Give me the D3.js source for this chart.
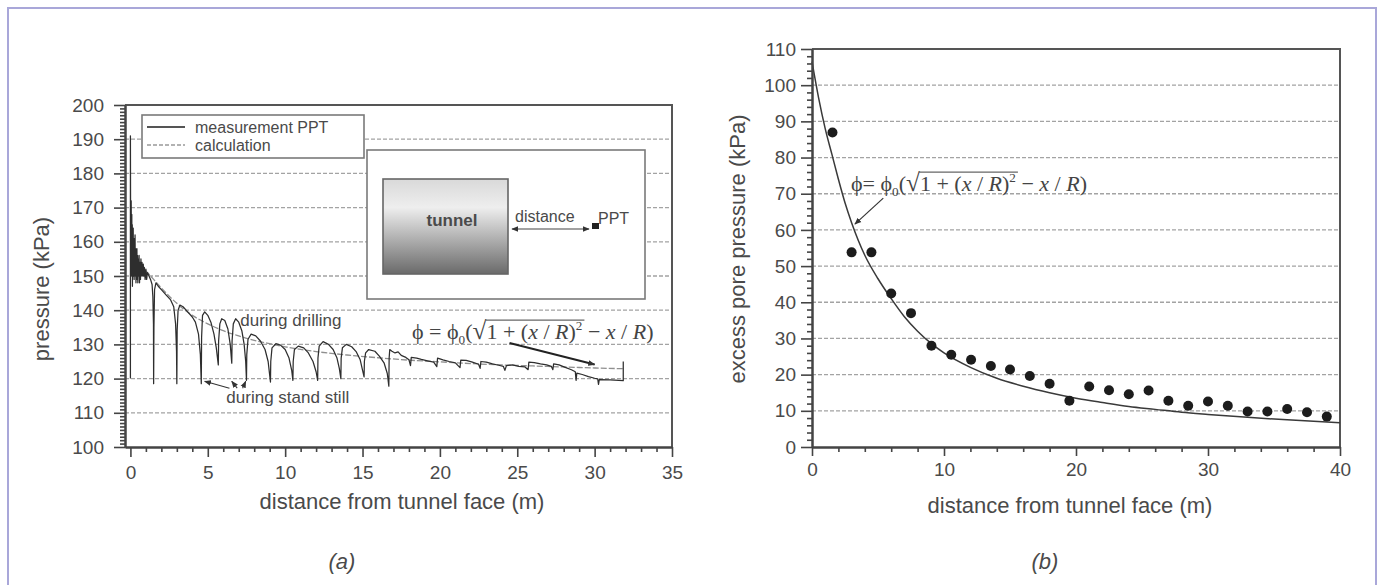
<!DOCTYPE html>
<html>
<head>
<meta charset="utf-8">
<script src="https://cdn.jsdelivr.net/npm/d3@7"></script>
<style>
  body { margin: 0; background: #fff; }
  svg { display: block; }
  text { font-family: "Liberation Sans", Arial, sans-serif; fill: #4a4a4a; }
  .formula text { font-family: "Liberation Serif", "DejaVu Serif", serif; fill: #444; }
</style>
</head>
<body>
<svg id="chart"></svg>
<script>
// ---- chart (a): pressure vs distance ----
var ticksA_x = [0, 5, 10, 15, 20, 25, 30, 35];
var ticksA_y = [100, 110, 120, 130, 140, 150, 160, 170, 180, 190, 200];
var gridA = [110, 120, 130, 140, 150, 160, 170, 180, 190];

var measurement = [
  [0, 120], [0, 191], [0.02, 150], [0.05, 172], [0.07, 155], [0.09, 168], [0.1, 150], [0.12, 165],
  [0.13, 147], [0.15, 162], [0.16, 152], [0.18, 164], [0.2, 150], [0.22, 161], [0.24, 149], [0.26, 160],
  [0.28, 151], [0.3, 162], [0.32, 150], [0.34, 158], [0.36, 148], [0.38, 157], [0.4, 150], [0.42, 158],
  [0.44, 149], [0.46, 156], [0.48, 148], [0.5, 155], [0.53, 150], [0.56, 156], [0.59, 148], [0.62, 154],
  [0.65, 149], [0.68, 155], [0.71, 150], [0.75, 154], [0.79, 150], [0.83, 153.5], [0.87, 150], [0.9, 152.5],
  [0.95, 149], [1.0, 152], [1.05, 149], [1.1, 151], [1.2, 150], [1.3, 149], [1.4, 147.5],
  [1.45, 144], [1.49, 136], [1.5, 118.5],
  [1.52, 135], [1.56, 146], [1.65, 148], [1.8, 147], [2.0, 146], [2.3, 144.5], [2.6, 143], [2.8, 141],
  [2.92, 136], [2.98, 128], [3.0, 118.5],
  [3.02, 134], [3.08, 140], [3.2, 141.5], [3.4, 141], [3.7, 139.5], [4.0, 138], [4.2, 136.5], [4.4, 133],
  [4.52, 127], [4.58, 118.5],
  [4.6, 132], [4.66, 138.5], [4.8, 139.5], [5.0, 138.5], [5.2, 136.5], [5.4, 133], [5.55, 129], [5.68, 124],
  [5.7, 131], [5.78, 136], [5.9, 137.5], [6.1, 137], [6.3, 134.5], [6.45, 130], [6.55, 124.5],
  [6.57, 131], [6.65, 136], [6.8, 137.5], [7.0, 136.5], [7.2, 134], [7.35, 130], [7.45, 125], [7.5, 119.5],
  [7.52, 127], [7.6, 131.5], [7.8, 133], [8.1, 132.5], [8.4, 131], [8.7, 128.5], [8.9, 125], [9.0, 121], [9.05, 119],
  [9.07, 125], [9.15, 129], [9.4, 130.2], [9.7, 129.8], [10.0, 128.5], [10.25, 126], [10.42, 122.5], [10.5, 119.5],
  [10.52, 125], [10.6, 128.5], [10.85, 129.5], [11.2, 129], [11.5, 127.5], [11.8, 125], [12.0, 122], [12.1, 119.5],
  [12.12, 126], [12.2, 129.5], [12.45, 130.8], [12.8, 130], [13.1, 128.5], [13.35, 126], [13.5, 123], [13.6, 120],
  [13.62, 126], [13.7, 129], [13.95, 130], [14.3, 129.3], [14.6, 127.8], [14.85, 125.5], [15.0, 122.5], [15.1, 120.5],
  [15.12, 125], [15.2, 127.5], [15.4, 128.5], [15.8, 128], [16.1, 126.5], [16.4, 124.5], [16.6, 121.5], [16.7, 117.8],
  [16.72, 126], [16.76, 128.5], [16.9, 128], [17.1, 127.5], [17.3, 127.8], [17.5, 126.8], [17.8, 126.2], [18.0, 125.5],
  [18.1, 123.8], [18.15, 126.2], [18.5, 126], [18.8, 125.6], [19.2, 125.2], [19.6, 124.8], [19.8, 123.5], [19.85, 126],
  [20.2, 125.5], [20.6, 125], [21.0, 124.6], [21.3, 123.2], [21.35, 125.4], [21.7, 125.3], [22.1, 124.8], [22.5, 124.2],
  [22.6, 123], [22.65, 125], [23.0, 124.8], [23.4, 124.3], [23.8, 123.9], [24.1, 123.6], [24.2, 122.4], [24.3, 123.8],
  [24.7, 124], [25.1, 123.6], [25.5, 123.4], [25.7, 122.6], [25.75, 124.8], [26.1, 124.7], [26.5, 124.3], [26.9, 124],
  [27.2, 123.6], [27.3, 122.6], [27.35, 124.3], [27.7, 124], [28.1, 123.3], [28.5, 122.6], [28.75, 122], [28.8, 119.5],
  [28.85, 121.6], [29.2, 121.2], [29.6, 120.6], [30.0, 120.1], [30.2, 119.9], [30.25, 118.3], [30.3, 119.7],
  [31.0, 119.6], [31.85, 119.4], [31.85, 125]
];

// calculated curve (distance m, kPa)
var calculation = [
  [0, 157], [0.5, 154], [1, 151.5], [1.5, 149], [2, 146.5], [3, 142], [4, 138.5], [5, 136], [6, 134],
  [7, 132.5], [8, 131.2], [9, 130.2], [10, 129.3], [12, 127.9], [14, 126.9], [16, 126.1], [18, 125.4],
  [20, 124.9], [22, 124.4], [24, 124], [26, 123.7], [28, 123.4], [30, 123.1], [31.85, 122.9]
];

// ---- chart (b): excess pore pressure ----
var ticksB_x = [0, 10, 20, 30, 40];
var ticksB_y = [0, 10, 20, 30, 40, 50, 60, 70, 80, 90, 100, 110];
var gridB = [10, 20, 30, 40, 50, 60, 70, 80, 90, 100];

var pointsX = [1.55, 3.0, 4.5, 6.0, 7.5, 9.05, 10.55, 12.05, 13.55, 15.0, 16.5, 18.0, 19.5,
               21.0, 22.5, 24.0, 25.5, 27.0, 28.5, 30.0, 31.5, 33.0, 34.5, 36.0, 37.5, 39.0];
var pointsY = [86.9, 53.8, 53.8, 42.4, 37.0, 28.0, 25.5, 24.1, 22.4, 21.4, 19.6, 17.5, 12.8,
               16.7, 15.7, 14.6, 15.6, 12.8, 11.4, 12.6, 11.4, 9.8, 9.8, 10.5, 9.6, 8.4];

var theoryX = [0, 0.5, 1, 1.5, 2, 2.5, 3, 4, 5, 6, 7, 8, 9, 10, 12, 14, 16, 18, 20, 22, 24, 26, 28, 30, 33, 36, 40];
var theoryY = [106.5, 96.5, 88, 81, 74, 67.5, 62, 53, 46.5, 41, 36, 32, 28.7, 26, 22, 19, 16.8, 15, 13.5,
               12.3, 11.2, 10.4, 9.6, 9, 8.2, 7.5, 6.7];

var W = 1381, H = 585;
var svg = d3.select("#chart").attr("width", W).attr("height", H);

// outer frame
svg.append("rect")
    .attr("x", 8).attr("y", 8)
    .attr("width", 1368).attr("height", 600)
    .attr("fill", "none")
    .attr("stroke", "#a9a7d9")
    .attr("stroke-width", 2);

var defs = svg.append("defs");
function arrowMarker(id, orient) {
    defs.append("marker")
        .attr("id", id)
        .attr("viewBox", "0 0 10 10")
        .attr("refX", 9).attr("refY", 5)
        .attr("markerWidth", 7).attr("markerHeight", 7)
        .attr("markerUnits", "userSpaceOnUse")
        .attr("orient", orient)
        .append("path")
        .attr("d", "M0,1 L10,5 L0,9 Z")
        .attr("fill", "#333");
}
arrowMarker("arr", "auto");
arrowMarker("arrStart", "auto-start-reverse");

var grad = defs.append("linearGradient")
    .attr("id", "tunnelGrad")
    .attr("x1", 0).attr("y1", 0).attr("x2", 0).attr("y2", 1);
grad.append("stop").attr("offset", "0").attr("stop-color", "#d9d9d9");
grad.append("stop").attr("offset", "0.3").attr("stop-color", "#eeeeee");
grad.append("stop").attr("offset", "1").attr("stop-color", "#6a6a6a");

function range(a, b, step) {
    var out = [];
    for (var v = a; v <= b + 1e-9; v += step) out.push(+v.toFixed(3));
    return out;
}

function styleAxis(g, labelSize) {
    g.select(".domain").attr("stroke", "#444").attr("stroke-width", 2);
    g.selectAll(".tick line").attr("stroke", "#444").attr("stroke-width", 1.6);
    g.selectAll(".tick text")
        .style("font-family", "'Liberation Sans', Arial, sans-serif")
        .style("font-size", labelSize + "px")
        .attr("fill", "#4a4a4a");
}

// formula drawn piece by piece so that the root bar can be measured
function formula(g, x0, yBase, size, tight) {
    var pieces = [
        { t: "\u03d5" }, { t: tight ? "= " : " = " }, { t: "\u03d5" }, { t: "0", sub: true }, { t: "(" },
        { t: "\u221a", root: true }, { t: "1 + (", barStart: true }, { t: "x", it: true }, { t: " / " },
        { t: "R", it: true }, { t: ")" }, { t: "2", sup: true, barEnd: true }, { t: " \u2212 " },
        { t: "x", it: true }, { t: " / " }, { t: "R", it: true }, { t: ")" }
    ];
    var x = x0, barX0 = 0, barX1 = 0;
    pieces.forEach(function(p) {
        var fs = (p.sub || p.sup) ? size * 0.6 : size;
        var dy = p.sub ? size * 0.22 : (p.sup ? -size * 0.42 : 0);
        var t = g.append("text")
            .attr("x", x).attr("y", yBase + dy)
            .style("font-size", (p.root ? size * 1.15 : fs) + "px")
            .style("font-style", p.it ? "italic" : "normal")
            .attr("xml:space", "preserve")
            .text(p.t);
        if (p.barStart) barX0 = x;
        x += t.node().getComputedTextLength();
        if (p.barEnd) barX1 = x + 2;
    });
    g.append("line")
        .attr("x1", barX0 - 1).attr("x2", barX1)
        .attr("y1", yBase - size * 0.86).attr("y2", yBase - size * 0.86)
        .attr("stroke", "#666").attr("stroke-width", 1.2);
}

// ================= chart (a) =================
var xa = d3.scaleLinear().domain([-0.35, 35]).range([125, 672]);
var ya = d3.scaleLinear().domain([100, 200]).range([447, 105]);
var ga = svg.append("g");

ga.append("g").selectAll("line")
    .data(gridA).enter().append("line")
    .attr("x1", xa(-0.35)).attr("x2", xa(35))
    .attr("y1", function(d) { return ya(d); })
    .attr("y2", function(d) { return ya(d); })
    .attr("stroke", "#a3a3a3")
    .attr("stroke-width", 1.3)
    .attr("stroke-dasharray", "4,2");

// frame top / right
ga.append("path")
    .attr("d", "M" + xa(-0.35) + "," + ya(200) + "H" + xa(35) + "V" + ya(100))
    .attr("fill", "none").attr("stroke", "#555").attr("stroke-width", 2);

// inset sketch box
var inset = ga.append("g");
inset.append("rect")
    .attr("x", 367).attr("y", 150).attr("width", 278).attr("height", 149)
    .attr("fill", "#fff").attr("stroke", "#7a7a7a").attr("stroke-width", 1.6);
inset.append("rect")
    .attr("x", 383).attr("y", 179).attr("width", 125).attr("height", 95)
    .attr("fill", "url(#tunnelGrad)").attr("stroke", "#666").attr("stroke-width", 1.6);
inset.append("text")
    .attr("x", 452).attr("y", 226)
    .attr("text-anchor", "middle")
    .style("font-size", "17px").style("font-weight", "bold")
    .attr("fill", "#3a3a3a")
    .text("tunnel");
inset.append("line")
    .attr("x1", 512).attr("x2", 589).attr("y1", 229).attr("y2", 229)
    .attr("stroke", "#444").attr("stroke-width", 1.2)
    .attr("marker-start", "url(#arrStart)")
    .attr("marker-end", "url(#arr)");
inset.append("text")
    .attr("x", 515).attr("y", 222)
    .style("font-size", "16px")
    .text("distance");
inset.append("rect")
    .attr("x", 592).attr("y", 223).attr("width", 7).attr("height", 6)
    .attr("fill", "#222");
inset.append("text")
    .attr("x", 598).attr("y", 224)
    .style("font-size", "16px")
    .text("PPT");

// legend
var leg = ga.append("g");
leg.append("rect")
    .attr("x", 142).attr("y", 115).attr("width", 222).attr("height", 43)
    .attr("fill", "#fff").attr("stroke", "#7a7a7a").attr("stroke-width", 1.6);
leg.append("line").attr("x1", 147).attr("x2", 185).attr("y1", 127).attr("y2", 127)
    .attr("stroke", "#555").attr("stroke-width", 2);
leg.append("line").attr("x1", 147).attr("x2", 185).attr("y1", 145).attr("y2", 145)
    .attr("stroke", "#999").attr("stroke-width", 1.3).attr("stroke-dasharray", "4,2");
leg.append("text").attr("x", 195).attr("y", 133).style("font-size", "16px").text("measurement PPT");
leg.append("text").attr("x", 195).attr("y", 151).style("font-size", "16px").text("calculation");

var lineA = d3.line()
    .x(function(d) { return xa(d[0]); })
    .y(function(d) { return ya(d[1]); });

ga.append("path")
    .datum(calculation)
    .attr("d", lineA.curve(d3.curveMonotoneX))
    .attr("fill", "none").attr("stroke", "#8f8f8f")
    .attr("stroke-width", 1.3).attr("stroke-dasharray", "6,2");

ga.append("path")
    .datum(measurement)
    .attr("d", lineA.curve(d3.curveLinear))
    .attr("fill", "none").attr("stroke", "#2e2e2e")
    .attr("stroke-width", 1.25).attr("stroke-linejoin", "round");

// axes (a)
var axYa = ga.append("g").attr("transform", "translate(" + xa(-0.35) + ",0)");
axYa.call(d3.axisLeft(ya).tickValues(range(100, 200, 1).filter(function(v) { return v % 10; }))
    .tickSize(5).tickSizeOuter(0).tickFormat(""));
axYa.call(styleAxis, 19);
var axYaM = ga.append("g").attr("transform", "translate(" + xa(-0.35) + ",0)");
axYaM.call(d3.axisLeft(ya).tickValues(ticksA_y).tickSize(11).tickPadding(10).tickSizeOuter(0));
axYaM.call(styleAxis, 19);

var axXa = ga.append("g").attr("transform", "translate(0," + ya(100) + ")");
axXa.call(d3.axisBottom(xa).tickValues(range(0, 35, 1).filter(function(v) { return v % 5; }))
    .tickSize(5).tickSizeOuter(0).tickFormat(""));
axXa.call(styleAxis, 19);
var axXaM = ga.append("g").attr("transform", "translate(0," + ya(100) + ")");
axXaM.call(d3.axisBottom(xa).tickValues(ticksA_x).tickSize(10).tickPadding(9).tickSizeOuter(0));
axXaM.call(styleAxis, 19);

ga.append("text")
    .attr("transform", "translate(49," + 289 + ") rotate(-90)")
    .attr("text-anchor", "middle")
    .style("font-size", "22px")
    .text("pressure (kPa)");
ga.append("text")
    .attr("x", 402).attr("y", 509)
    .attr("text-anchor", "middle")
    .style("font-size", "22px")
    .text("distance from tunnel face (m)");
ga.append("text")
    .attr("x", 342).attr("y", 569)
    .attr("text-anchor", "middle")
    .style("font-size", "22px").style("font-style", "italic")
    .text("(a)");

// annotations (a)
ga.append("text").attr("x", xa(7.1)).attr("y", ya(135.5))
    .style("font-size", "17px").text("during drilling");
ga.append("text").attr("x", xa(6.2)).attr("y", ya(113))
    .style("font-size", "17px").text("during stand still");
[[6.4, 4.8], [6.9, 6.55], [7.25, 7.45]].forEach(function(a) {
    ga.append("line")
        .attr("x1", xa(a[0])).attr("y1", ya(117.2))
        .attr("x2", xa(a[1])).attr("y2", ya(119.2))
        .attr("stroke", "#333").attr("stroke-width", 1.1)
        .attr("marker-end", "url(#arr)");
});
ga.append("line")
    .attr("x1", xa(24.5)).attr("y1", ya(130.4))
    .attr("x2", xa(30.0)).attr("y2", ya(124.1))
    .attr("stroke", "#222").attr("stroke-width", 2)
    .attr("marker-end", "url(#arr)");
formula(ga.append("g").attr("class", "formula"), 412, 339, 22, false);

// ================= chart (b) =================
var xb = d3.scaleLinear().domain([0, 40]).range([812, 1340]);
var yb = d3.scaleLinear().domain([0, 110]).range([447, 49]);
var gb = svg.append("g");

gb.append("g").selectAll("line")
    .data(gridB).enter().append("line")
    .attr("x1", xb(0)).attr("x2", xb(40))
    .attr("y1", function(d) { return yb(d); })
    .attr("y2", function(d) { return yb(d); })
    .attr("stroke", "#a3a3a3")
    .attr("stroke-width", 1.3)
    .attr("stroke-dasharray", "4,2");

gb.append("path")
    .attr("d", "M" + xb(0) + "," + yb(110) + "H" + xb(40) + "V" + yb(0))
    .attr("fill", "none").attr("stroke", "#555").attr("stroke-width", 2);

var theory = theoryX.map(function(x, i) { return [x, theoryY[i]]; });
gb.append("path")
    .datum(theory)
    .attr("d", d3.line()
        .x(function(d) { return xb(d[0]); })
        .y(function(d) { return yb(d[1]); })
        .curve(d3.curveMonotoneX))
    .attr("fill", "none").attr("stroke", "#3a3a3a").attr("stroke-width", 1.5);

gb.append("g").selectAll("circle")
    .data(pointsX).enter().append("circle")
    .attr("cx", function(d) { return xb(d); })
    .attr("cy", function(d, i) { return yb(pointsY[i]); })
    .attr("r", 5)
    .attr("fill", "#1c1c1c");

var axYb = gb.append("g").attr("transform", "translate(" + xb(0) + ",0)");
axYb.call(d3.axisLeft(yb).tickValues(range(0, 110, 2).filter(function(v) { return v % 10; }))
    .tickSize(5).tickSizeOuter(0).tickFormat(""));
axYb.call(styleAxis, 19);
var axYbM = gb.append("g").attr("transform", "translate(" + xb(0) + ",0)");
axYbM.call(d3.axisLeft(yb).tickValues(ticksB_y).tickSize(11).tickPadding(5).tickSizeOuter(0));
axYbM.call(styleAxis, 19);

var axXb = gb.append("g").attr("transform", "translate(0," + yb(0) + ")");
axXb.call(d3.axisBottom(xb).tickValues(range(0, 40, 2).filter(function(v) { return v % 10; }))
    .tickSize(5).tickSizeOuter(0).tickFormat(""));
axXb.call(styleAxis, 19);
var axXbM = gb.append("g").attr("transform", "translate(0," + yb(0) + ")");
axXbM.call(d3.axisBottom(xb).tickValues(ticksB_x).tickSize(9).tickPadding(7).tickSizeOuter(0));
axXbM.call(styleAxis, 19);

gb.append("text")
    .attr("transform", "translate(745," + 249 + ") rotate(-90)")
    .attr("text-anchor", "middle")
    .style("font-size", "22px")
    .text("excess pore pressure (kPa)");
gb.append("text")
    .attr("x", 1070).attr("y", 513)
    .attr("text-anchor", "middle")
    .style("font-size", "22px")
    .text("distance from tunnel face (m)");
gb.append("text")
    .attr("x", 1045).attr("y", 569)
    .attr("text-anchor", "middle")
    .style("font-size", "22px").style("font-style", "italic")
    .text("(b)");

gb.append("line")
    .attr("x1", xb(5.4)).attr("y1", yb(68.8))
    .attr("x2", xb(3.25)).attr("y2", yb(61.6))
    .attr("stroke", "#333").attr("stroke-width", 1.2)
    .attr("marker-end", "url(#arr)");
formula(gb.append("g").attr("class", "formula"), 851, 191, 22, true);
</script>
</body>
</html>
